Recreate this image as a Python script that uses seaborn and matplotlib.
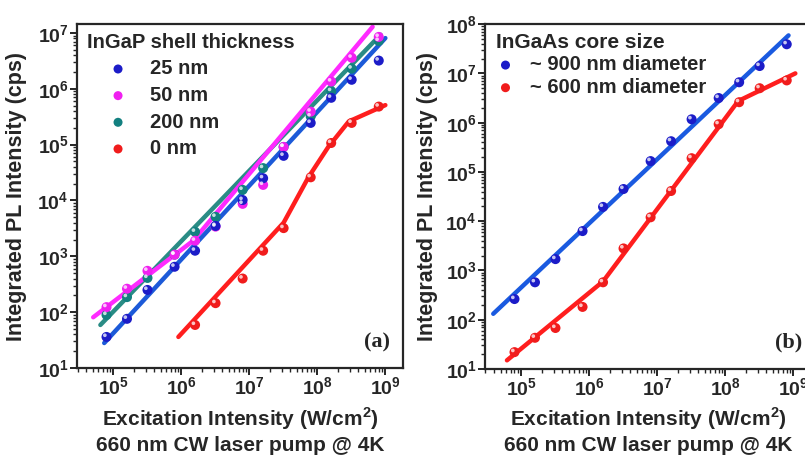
# PL intensity vs excitation intensity, two panels (a) InGaP shell, (b) InGaAs core
import matplotlib
matplotlib.use("Agg")
import matplotlib.pyplot as plt
import matplotlib.transforms as mtransforms
import seaborn as sns
import pandas as pd

# excitation intensity of the measured points (W/cm^2)
pump = [8e4, 1.6e5, 3.2e5, 8e5, 1.6e6, 3.2e6, 8e6, 1.6e7, 3.2e7, 8e7, 1.6e8, 3.2e8, 8e8]
pump_0nm = pump[4:]

# (a) integrated PL (cps) for each InGaP shell thickness
pl_25nm = [36, 76, 250, 650, 1260, 3500, 10200, 25000, 63000, 2.45e5, 6.9e5, 1.45e6, 3.2e6]
pl_50nm = [123, 263, 550, 1070, 1900, 3400, 8700, 19000, 91000, 3.9e5, 1.35e6, 3.6e6, 8.5e6]
pl_200nm = [89, 186, 410, 1070, 2750, 5100, 15500, 38000, 91000, 3.2e5, 9.1e5, 2.3e6, 7.2e6]
pl_0nm = [59, 145, 400, 1260, 3200, 26000, 1.07e5, 2.45e5, 4.8e5]

# (a) fit lines (knots)
fit_25nm_x = [7.4e4, 1.0e9]
fit_25nm_y = [28, 8.1e6]
fit_50nm_x = [5.1e4, 1.5e6, 6.5e8]
fit_50nm_y = [81, 1900, 1.29e7]
fit_200nm_x = [6.5e4, 8.5e8]
fit_200nm_y = [59, 9.3e6]
fit_0nm_x = [9.1e5, 3.2e7, 7.4e7, 1.45e8, 2.9e8, 1.0e9]
fit_0nm_y = [36, 4000, 26000, 91000, 2.6e5, 5.1e5]

# (b) integrated PL (cps) for two core diameters
pl_900nm = [263, 575, 1700, 6300, 19500, 45000, 1.66e5, 4.2e5, 1.17e6, 3.16e6, 6.6e6, 1.41e7, 3.9e7]
pl_600nm = [22, 43, 68, 182, 575, 2800, 12000, 41000, 1.9e5, 9.3e5, 2.6e6, 5.0e6, 7.2e6]

fit_900nm_x = [3.9e4, 8.5e8]
fit_900nm_y = [132, 5.9e7]
fit_600nm_x = [6.2e4, 1.6e6, 1.55e8, 1.07e9]
fit_600nm_y = [15, 600, 2.75e6, 1.0e7]

sns.set_style("ticks")
plt.rcParams['font.family'] = ['Liberation Sans', 'DejaVu Sans']
plt.rcParams['font.weight'] = 'bold'
plt.rcParams['axes.labelweight'] = 'bold'

fig = plt.figure(figsize=(8.05, 4.55), dpi=100)
ax1 = fig.add_axes([0.0957, 0.1912, 0.405, 0.756])
ax2 = fig.add_axes([0.6025, 0.189, 0.405, 0.758])


def draw_series(ax, x, y, fx, fy, point_col, line_col, name):
    sns.lineplot(x=fx, y=fy, ax=ax, color=line_col, lw=3.2, sort=False,
                 estimator=None, legend=False, zorder=2)
    sns.scatterplot(x=x, y=y, ax=ax, color=point_col, s=52, edgecolor='none',
                    label=name, zorder=3)
    # little highlight so the points look like shaded balls
    shift = mtransforms.ScaledTranslation(-1.2 / 72, 1.2 / 72, fig.dpi_scale_trans)
    ax.scatter(x, y, s=7, color='white', alpha=0.75, edgecolors='none',
               transform=ax.transData + shift, zorder=4)


for ax in (ax1, ax2):
    ax.set_xscale('log')
    ax.set_yscale('log')

draw_series(ax1, pump, pl_200nm, fit_200nm_x, fit_200nm_y, '#138080', '#2a8c85', '200 nm')
draw_series(ax1, pump, pl_50nm, fit_50nm_x, fit_50nm_y, '#f020f0', '#ff2aff', '50 nm')
draw_series(ax1, pump, pl_25nm, fit_25nm_x, fit_25nm_y, '#1c1cc8', '#1c5ad8', '25 nm')
draw_series(ax1, pump_0nm, pl_0nm, fit_0nm_x, fit_0nm_y, '#f01c1c', '#ff1e1e', '0 nm')

draw_series(ax2, pump, pl_900nm, fit_900nm_x, fit_900nm_y, '#1c1cc8', '#1a5ae0', '~ 900 nm diameter')
draw_series(ax2, pump, pl_600nm, fit_600nm_x, fit_600nm_y, '#f01c1c', '#ff1e1e', '~ 600 nm diameter')

ax1.set_xlim(10**4.47, 10**9.26)
ax2.set_xlim(10**4.47, 10**9.26)
ax1.set_ylim(10, 10**7.16)
ax2.set_ylim(10, 1e8)

for ax in (ax1, ax2):
    for sp in ax.spines.values():
        sp.set_linewidth(1.6)
        sp.set_visible(True)
    ax.tick_params(which='major', direction='out', length=5, width=1.4, pad=1,
                   labelsize=14)
    ax.tick_params(which='minor', direction='out', length=3, width=1.0)
    ax.tick_params(top=False, right=False)
    for lab in ax.get_xticklabels() + ax.get_yticklabels():
        lab.set_fontweight('bold')
    ax.set_ylabel('Integrated PL Intensity (cps)', fontsize=15.5, fontweight='bold')
    ax.set_xlabel('Excitation Intensity (W/cm$^{\\mathdefault{2}}$)\n660 nm CW laser pump @ 4K',
                  fontsize=15, fontweight='bold', linespacing=1.25)

ax1.yaxis.set_label_coords(-0.155, 0.5)
ax2.yaxis.set_label_coords(-0.145, 0.5)
ax1.xaxis.set_label_coords(0.5, -0.108)
ax2.xaxis.set_label_coords(0.5, -0.106)

# legends: points only
h, l = ax1.get_legend_handles_labels()
order = [l.index(k) for k in ['25 nm', '50 nm', '200 nm', '0 nm']]
leg1 = ax1.legend([h[i] for i in order], [l[i] for i in order],
                  title='InGaP shell thickness', loc='upper left',
                  bbox_to_anchor=(0.03, 0.975), frameon=False, alignment='left',
                  handlelength=3.1, handletextpad=0.05, labelspacing=0.38,
                  borderpad=0, borderaxespad=0, markerscale=0.9,
                  prop={'size': 14.5, 'weight': 'bold'})
leg1.get_title().set_fontsize(14.5)
leg1.get_title().set_fontweight('bold')

h, l = ax2.get_legend_handles_labels()
leg2 = ax2.legend(h, l, title='InGaAs core size', loc='upper left',
                  bbox_to_anchor=(0.035, 0.975), frameon=False, alignment='left',
                  handlelength=0.9, handletextpad=0.75, labelspacing=0.18,
                  borderpad=0, borderaxespad=0, markerscale=0.9,
                  prop={'size': 14.5, 'weight': 'bold'})
leg2.get_title().set_fontsize(15)
leg2.get_title().set_fontweight('bold')

ax1.text(0.92, 0.073, '(a)', transform=ax1.transAxes, ha='center', va='center',
         fontsize=16, fontweight='bold', family='Liberation Serif')
ax2.text(0.93, 0.078, '(b)', transform=ax2.transAxes, ha='center', va='center',
         fontsize=16, fontweight='bold', family='Liberation Serif')

fig.savefig('out.png', dpi=100)
